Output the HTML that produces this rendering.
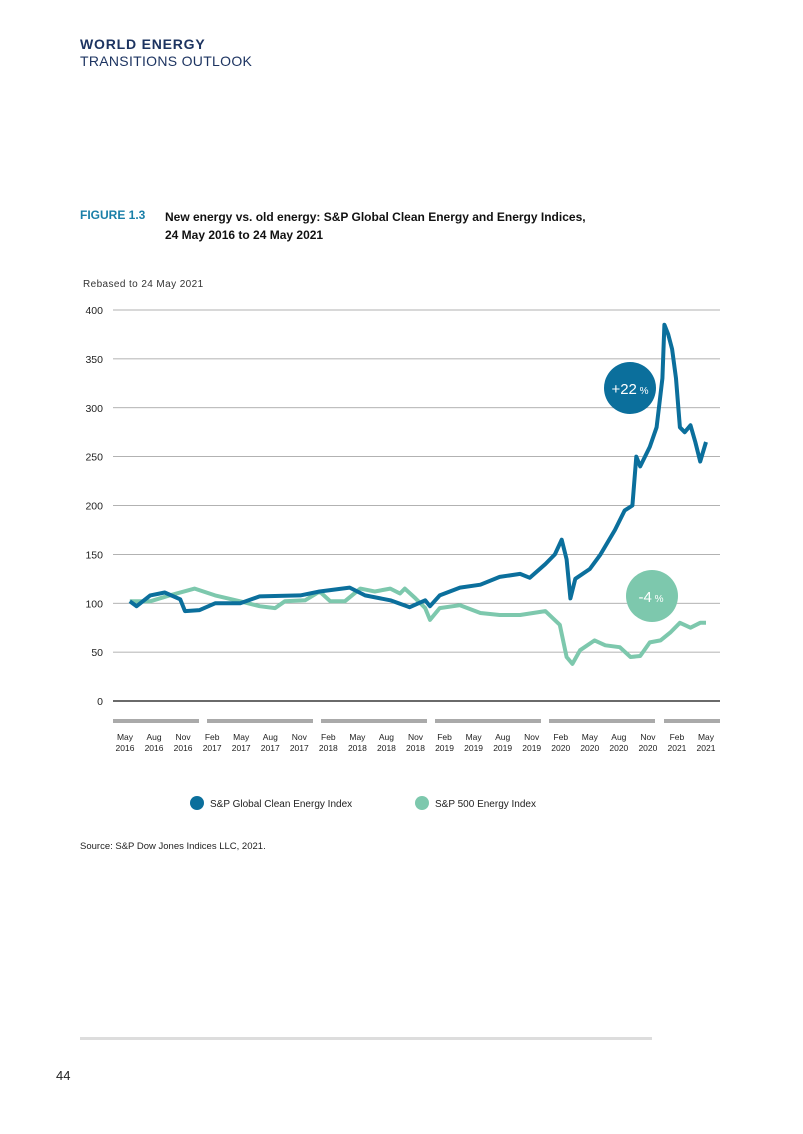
<!DOCTYPE html>
<html><head><meta charset="utf-8"><style>
body{margin:0;background:#fff;font-family:"Liberation Sans",sans-serif;}
#page{position:relative;width:803px;height:1134px;overflow:hidden;background:#fff;}
.abs{position:absolute;white-space:nowrap;}
</style></head><body>
<div id="page">
<div class="abs" style="left:80px;top:36px;font-size:14px;font-weight:bold;color:#1d3461;letter-spacing:0.8px">WORLD ENERGY</div>
<div class="abs" style="left:80px;top:53px;font-size:14px;color:#1d3461;letter-spacing:0.3px">TRANSITIONS OUTLOOK</div>
<div class="abs" style="left:80px;top:208px;font-size:12px;font-weight:bold;color:#1a7fa8">FIGURE 1.3</div>
<div class="abs" style="left:165px;top:208px;font-size:12px;font-weight:bold;color:#111;line-height:18px">New energy vs. old energy: S&amp;P Global Clean Energy and Energy Indices,<br>24 May 2016 to 24 May 2021</div>
<div class="abs" style="left:83px;top:279px;font-size:10px;color:#333;letter-spacing:0.4px">Rebased to 24 May 2021</div>
<svg id="chart" class="abs" style="left:0;top:0" width="803" height="1134"></svg>
<div class="abs" style="left:80px;top:841px;font-size:9.5px;color:#222">Source: S&amp;P Dow Jones Indices LLC, 2021.</div>
<div class="abs" style="left:80px;top:1037px;width:572px;height:3px;background:#ddd"></div>
<div class="abs" style="left:56px;top:1068px;font-size:13px;color:#222">44</div>
</div>
<script>
const yTicks=[0,50,100,150,200,250,300,350,400];
const xMonths=[0,3,6,9,12,15,18,21,24,27,30,33,36,39,42,45,48,51,54,57,60];
const xMon=["May","Aug","Nov","Feb","May","Aug","Nov","Feb","May","Aug","Nov","Feb","May","Aug","Nov","Feb","May","Aug","Nov","Feb","May"];
const xYear=["2016","2016","2016","2017","2017","2017","2017","2018","2018","2018","2018","2019","2019","2019","2019","2020","2020","2020","2020","2021","2021"];
const cleanT=[0.5,1.2,2.6,4.1,5.7,6.2,7.7,9.3,11.9,13.9,18.1,20.1,23.2,24.8,27.4,29.4,31,31.5,32.5,34.6,36.7,38.7,40.8,41.8,43.4,44.4,45.1,45.6,46,46.5,48,49.1,50.6,51.6,52.4,52.8,53.2,54.2,54.9,55.5,55.7,56.1,56.5,56.9,57.3,57.8,58.4,58.9,59.4,60];
const cleanV=[102,97,108,111,104,92,93,100,100,107,108,112,116,108,103,96,103,97,108,116,119,127,130,126,140,150,165,145,105,125,135,150,175,195,200,250,240,260,280,330,385,375,360,330,280,275,282,265,245,265];
const energyT=[0.5,2.6,4.6,7.2,9.3,11.9,13.9,15.5,16.5,18.6,20.1,21.2,22.7,24.3,25.8,27.4,28.4,28.9,30,31,31.5,32.5,34.6,36.7,38.7,40.8,43.4,44.9,45.6,46.2,47,48.5,49.6,51.1,52.2,53.2,54.2,55.3,56.3,57.3,58.4,59.4,60];
const energyV=[102,102,108,115,108,102,97,95,102,103,112,102,102,115,112,115,110,115,105,95,83,95,98,90,88,88,92,78,45,38,52,62,57,55,45,46,60,62,70,80,75,80,80];
const NS="http://www.w3.org/2000/svg";
const svg=document.getElementById('chart');
const xs=m=>125+m*(581/60);
const ys=v=>701-v*(391/400);
function mk(t,a){const e=document.createElementNS(NS,t);for(const k in a)e.setAttribute(k,a[k]);svg.appendChild(e);return e;}
yTicks.forEach(v=>{
 const l=mk('line',{x1:113,x2:720,y1:ys(v),y2:ys(v),stroke:v===0?'#111':'#999','stroke-width':v===0?1.2:0.8});
 
 
 const t=mk('text',{x:103,y:ys(v)+4,'text-anchor':'end','font-size':10.5,fill:'#222','font-family':'Liberation Sans'});
 t.textContent=v;
 
 
});
[[113,199],[207,313],[321,427],[435,541],[549,655],[664,720]].forEach((b,i)=>{
 const r=mk('rect',{x:b[0],y:719,width:b[1]-b[0],height:4,fill:'#aaa'});
 
 
});
xMonths.forEach((m,i)=>{
 const t=mk('text',{x:xs(m),y:740,'text-anchor':'middle','font-size':8.5,fill:'#222','font-family':'Liberation Sans'});
 t.textContent=xMon[i];
 
 
 const t2=mk('text',{x:xs(m),y:751,'text-anchor':'middle','font-size':8.5,fill:'#222','font-family':'Liberation Sans'});
 t2.textContent=xYear[i];
 
 
});
function path(T,V){return T.map((t,i)=>(i?'L':'M')+xs(t).toFixed(1)+','+ys(V[i]).toFixed(1)).join('');}
const pe=mk('path',{d:path(energyT,energyV),fill:'none',stroke:'#7dc8ad','stroke-width':4,'stroke-linejoin':'round'});


const pc=mk('path',{d:path(cleanT,cleanV),fill:'none',stroke:'#0b6f9c','stroke-width':4,'stroke-linejoin':'round'});


const c1=mk('circle',{cx:630,cy:388,r:26,fill:'#0b6f9c'});


const t1=mk('text',{x:630,y:394,'text-anchor':'middle','font-size':15,fill:'#fff','font-family':'Liberation Sans'});
t1.innerHTML='+22<tspan font-size="10"> %</tspan>';


const c2=mk('circle',{cx:652,cy:596,r:26,fill:'#7dc8ad'});


const t3=mk('text',{x:651,y:602,'text-anchor':'middle','font-size':15,fill:'#fff','font-family':'Liberation Sans'});
t3.innerHTML='-4<tspan font-size="10"> %</tspan>';


[[197,'#0b6f9c','S&P Global Clean Energy Index'],[422,'#7dc8ad','S&P 500 Energy Index']].forEach(d=>{
 const c=mk('circle',{cx:d[0],cy:803,r:7,fill:d[1]});
 
 
 const t=mk('text',{x:d[0]+13,y:807,'font-size':10,fill:'#222','font-family':'Liberation Sans'});
 t.textContent=d[2];
 
 
});
</script>
</body></html>
